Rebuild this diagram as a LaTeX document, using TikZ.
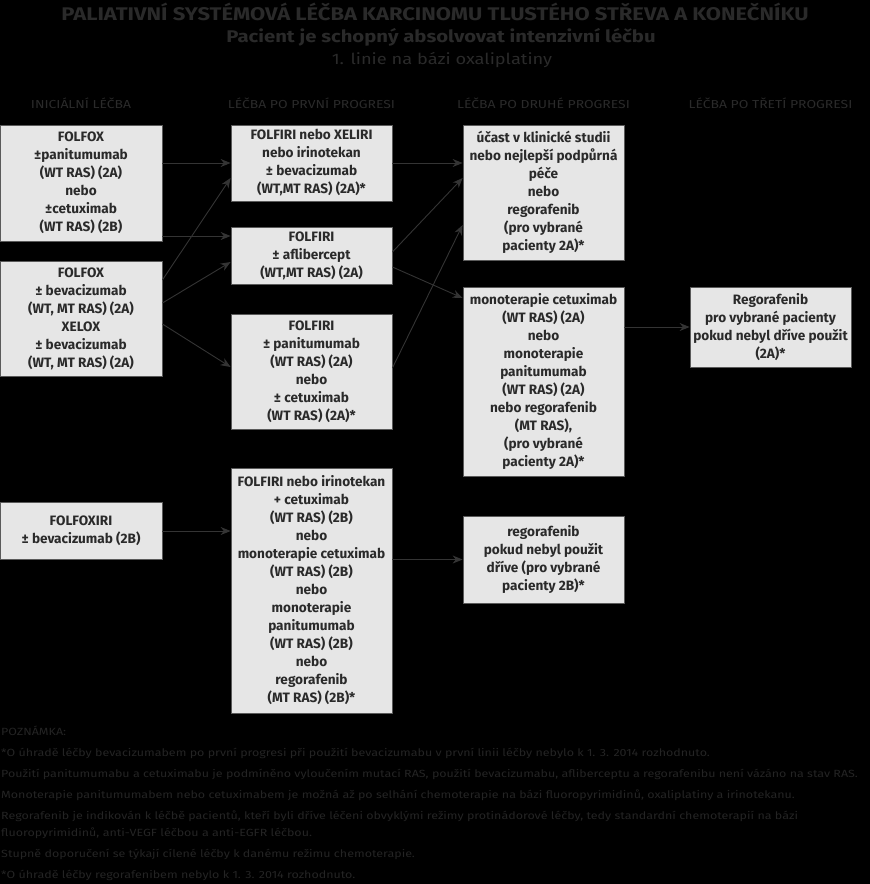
\documentclass[tikz,border=0pt]{standalone}
\usepackage{fontspec}
\setmainfont{Fira Sans}
\newfontfamily\widefont{Fira Sans}[FakeStretch=1.2]
\usepackage{tikz}
\usetikzlibrary{arrows.meta, positioning}
\definecolor{boxfill}{HTML}{E6E6E6}
\definecolor{boxline}{HTML}{5A5A5A}
\definecolor{ink}{HTML}{2A2A2A}
\definecolor{noteink}{HTML}{242424}
\definecolor{wire}{HTML}{343434}
\tikzstyle{box} = [draw=boxline, fill=boxfill, rectangle, minimum width=161pt, inner sep=0pt, align=center, text=ink, font=\bfseries\fontsize{13.6}{18}\selectfont, line width=0.8pt]
\tikzstyle{colhead} = [text=ink, font=\widefont\fontsize{11.6}{14}\selectfont]
\tikzstyle{arrow} = [draw=wire, line width=0.9pt, -{Stealth[length=10pt,width=8pt]}]

\begin{document}
\begin{tikzpicture}[x=1pt, y=-1pt]
    \fill[black] (0,0) rectangle (870,884);
    \useasboundingbox (0,0) rectangle (870,884);
    \node [text=ink, font=\bfseries\widefont\fontsize{18.3}{20}\selectfont] (title) at (435,12) {PALIATIVNÍ SYSTÉMOVÁ LÉČBA KARCINOMU TLUSTÉHO STŘEVA A KONEČNÍKU};
    \node [text=ink, font=\bfseries\widefont\fontsize{16.9}{20}\selectfont] (subtitle) at (441,37) {Pacient je schopný absolvovat intenzivní léčbu};
    \node [text=ink, font=\widefont\fontsize{15.2}{20}\selectfont] (line) at (442,60) {1. linie na bázi oxaliplatiny};
    \node [colhead] (head1) at (81,103) {INICIÁLNÍ LÉČBA};
    \node [colhead] (head2) at (311.5,103) {LÉČBA PO PRVNÍ PROGRESI};
    \node [colhead] (head3) at (543.5,103) {LÉČBA PO DRUHÉ PROGRESI};
    \node [colhead] (head4) at (770.5,103) {LÉČBA PO TŘETÍ PROGRESI};
    \node [box, minimum width=162pt, minimum height=116pt] (folfoxpan) at (81,183) {FOLFOX\\±panitumumab\\(WT RAS) (2A)\\nebo\\±cetuximab\\(WT RAS) (2B)};
    \node [box, minimum width=162pt, minimum height=115pt] (folfoxbev) at (81,318.5) {FOLFOX\\± bevacizumab\\(WT, MT RAS) (2A)\\XELOX\\± bevacizumab\\(WT, MT RAS) (2A)};
    \node [box, minimum width=162pt, minimum height=57pt] (folfoxiri) at (81,531) {FOLFOXIRI\\± bevacizumab (2B)};
    \node [box, minimum height=76pt] (folfiribev) at (311.5,163) {FOLFIRI nebo XELIRI\\nebo irinotekan\\± bevacizumab\\(WT,MT RAS) (2A)*};
    \node [box, minimum height=57pt] (folfiriafl) at (311.5,255.5) {FOLFIRI\\± aflibercept\\(WT,MT RAS) (2A)};
    \node [box, minimum height=115pt] (folfiripan) at (311.5,371.5) {FOLFIRI\\± panitumumab\\(WT RAS) (2A)\\nebo\\± cetuximab\\(WT RAS) (2A)*};
    \node [box, minimum height=245pt] (folfiricet) at (311.5,590.5) {FOLFIRI nebo irinotekan\\+ cetuximab\\(WT RAS) (2B)\\nebo\\monoterapie cetuximab\\(WT RAS) (2B)\\nebo\\monoterapie\\panitumumab\\(WT RAS) (2B)\\nebo\\regorafenib\\(MT RAS) (2B)*};
    \node [box, minimum height=135pt] (study) at (543.5,192.5) {účast v klinické studii\\nebo nejlepší podpůrná\\péče\\nebo\\regorafenib\\(pro vybrané\\pacienty 2A)*};
    \node [box, minimum height=189pt] (mono) at (543.5,381.5) {monoterapie cetuximab\\(WT RAS) (2A)\\nebo\\monoterapie\\panitumumab\\(WT RAS) (2A)\\nebo regorafenib\\(MT RAS),\\(pro vybrané\\pacienty 2A)*};
    \node [box, minimum height=87pt] (regolow) at (543.5,559.5) {regorafenib\\pokud nebyl použit\\dříve (pro vybrané\\pacienty 2B)*};
    \node [box, minimum height=80pt] (regothird) at (770.5,327) {Regorafenib\\pro vybrané pacienty\\pokud nebyl dříve použit\\(2A)*};
    \draw [arrow] ([yshift=20pt]folfoxpan.east) -- (folfiribev.west);
    \draw [arrow] ([yshift=-53pt]folfoxpan.east) -- ([yshift=-53pt]folfoxpan.east -| folfiriafl.west);
    \draw [arrow] ([yshift=38.5pt]folfoxbev.east) -- ([yshift=-15pt]folfiribev.west);
    \draw [arrow] ([yshift=15.5pt]folfoxbev.east) -- ([yshift=-6.5pt]folfiriafl.west);
    \draw [arrow] ([yshift=-5.5pt]folfoxbev.east) -- ([yshift=4.5pt]folfiripan.west);
    \draw [arrow] (folfiribev.east) -- (folfiribev.east -| study.west);
    \draw [arrow] ([yshift=3.5pt]folfiriafl.east) -- ([yshift=14.5pt]study.west);
    \draw [arrow] ([yshift=-11.5pt]folfiriafl.east) -- ([yshift=83.5pt]mono.west);
    \draw [arrow] ([yshift=3.5pt]folfiripan.east) -- ([yshift=-32.5pt]study.west);
    \draw [arrow] ([yshift=54.5pt]mono.east) -- (regothird.west);
    \draw [arrow] (folfoxiri.east) -- (folfoxiri.east -| folfiricet.west);
    \draw [arrow] (folfiricet.east |- regolow.west) -- (regolow.west);
    \node [anchor=north west, align=left, inner sep=0pt, text=noteink, font=\widefont\fontsize{10.4}{16.5}\selectfont] (notes) at (1,726) {POZNÁMKA:\\[4.5pt]
    *O úhradě léčby bevacizumabem po první progresi při použití bevacizumabu v první linii léčby nebylo k 1. 3. 2014 rozhodnuto.\\[4.5pt]
    Použití panitumumabu a cetuximabu je podmíněno vyloučením mutací RAS, použití bevacizumabu, afliberceptu a regorafenibu není vázáno na stav RAS.\\[4.5pt]
    Monoterapie panitumumabem nebo cetuximabem je možná až po selhání chemoterapie na bázi fluoropyrimidinů, oxaliplatiny a irinotekanu.\\[4.5pt]
    Regorafenib je indikován k léčbě pacientů, kteří byli dříve léčeni obvyklými režimy protinádorové léčby, tedy standardní chemoterapií na bázi\\
    fluoropyrimidinů, anti-VEGF léčbou a anti-EGFR léčbou.\\[4.5pt]
    Stupně doporučení se týkají cílené léčby k danému režimu chemoterapie.\\[4.5pt]
    *O úhradě léčby regorafenibem nebylo k 1. 3. 2014 rozhodnuto.};
\end{tikzpicture}
\end{document}
